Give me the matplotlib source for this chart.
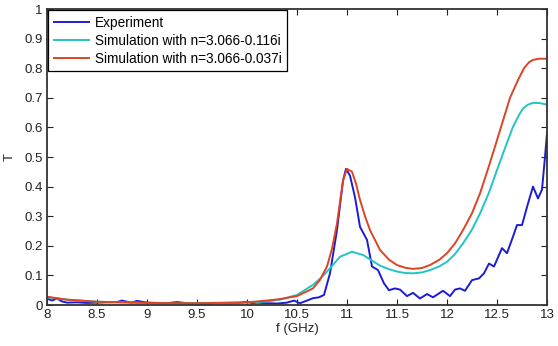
import matplotlib.pyplot as plt

plt.rcParams['font.family'] = ['Liberation Sans', 'DejaVu Sans']

# experiment (blue)
f_exp = [8.0, 8.05, 8.1, 8.15, 8.2, 8.3, 8.4, 8.5, 8.6, 8.7, 8.75, 8.8, 8.85, 8.9, 8.95, 9.0,
         9.1, 9.2, 9.3, 9.4, 9.5, 9.6, 9.7, 9.8, 9.9, 10.0, 10.05, 10.1, 10.2, 10.3, 10.4,
         10.47, 10.53, 10.6, 10.66, 10.72, 10.77, 10.83, 10.9, 10.96, 10.99, 11.03, 11.08,
         11.13, 11.2, 11.25, 11.31, 11.37, 11.42, 11.48, 11.53, 11.6, 11.66, 11.73, 11.8,
         11.86, 11.96, 12.03, 12.08, 12.13, 12.18, 12.25, 12.32, 12.37, 12.42, 12.47, 12.55,
         12.6, 12.66, 12.7, 12.75, 12.81, 12.86, 12.91, 12.95, 12.98, 13.0]
t_exp = [0.022, 0.015, 0.022, 0.012, 0.008, 0.009, 0.007, 0.008, 0.009, 0.010, 0.015, 0.011,
         0.008, 0.014, 0.011, 0.008, 0.007, 0.006, 0.010, 0.006, 0.005, 0.004, 0.006, 0.005,
         0.006, 0.011, 0.006, 0.008, 0.006, 0.005, 0.008, 0.015, 0.006, 0.015, 0.023, 0.026,
         0.034, 0.107, 0.253, 0.42, 0.46, 0.437, 0.364, 0.264, 0.22, 0.13, 0.118, 0.073, 0.05,
         0.056, 0.052, 0.03, 0.041, 0.022, 0.037, 0.026, 0.048, 0.03, 0.052, 0.056, 0.048,
         0.084, 0.09, 0.107, 0.14, 0.13, 0.192, 0.175, 0.231, 0.27, 0.27, 0.343, 0.40, 0.36,
         0.39, 0.50, 0.58]

# simulation n=3.066-0.116i (cyan)
f_s1 = [8.0, 8.2, 8.5, 9.0, 9.5, 10.0, 10.2, 10.33, 10.5, 10.66, 10.75, 10.83, 10.93, 11.05,
        11.16, 11.25, 11.33, 11.42, 11.5, 11.58, 11.66, 11.75, 11.83, 11.92, 12.0, 12.08,
        12.16, 12.25, 12.33, 12.42, 12.5, 12.58, 12.66, 12.72, 12.76, 12.81, 12.86, 12.93, 13.0]
t_s1 = [0.026, 0.018, 0.011, 0.007, 0.006, 0.008, 0.012, 0.018, 0.034, 0.068, 0.095, 0.124,
        0.163, 0.18, 0.169, 0.15, 0.133, 0.121, 0.113, 0.108, 0.107, 0.110, 0.118, 0.13,
        0.146, 0.172, 0.208, 0.255, 0.309, 0.38, 0.456, 0.53, 0.602, 0.642, 0.664, 0.677,
        0.683, 0.682, 0.677]

# simulation n=3.066-0.037i (red)
f_s2 = [8.0, 8.2, 8.5, 9.0, 9.5, 10.0, 10.2, 10.33, 10.5, 10.66, 10.73, 10.8, 10.85, 10.9,
        10.96, 11.0, 11.05, 11.09, 11.13, 11.18, 11.23, 11.33, 11.42, 11.5, 11.58, 11.66,
        11.75, 11.83, 11.92, 12.0, 12.08, 12.16, 12.25, 12.33, 12.42, 12.5, 12.58, 12.63,
        12.71, 12.77, 12.82, 12.86, 12.92, 13.0]
t_s2 = [0.028, 0.018, 0.011, 0.007, 0.006, 0.009, 0.015, 0.02, 0.03, 0.056, 0.085, 0.13,
        0.19, 0.276, 0.42, 0.46, 0.45, 0.41, 0.355, 0.30, 0.253, 0.186, 0.153, 0.135, 0.126,
        0.122, 0.125, 0.135, 0.152, 0.175, 0.208, 0.253, 0.31, 0.377, 0.47, 0.557, 0.645,
        0.70, 0.76, 0.80, 0.82, 0.828, 0.832, 0.832]

labels = ['Experiment', 'Simulation with n=3.066-0.116i', 'Simulation with n=3.066-0.037i']
xticks = [8, 8.5, 9, 9.5, 10, 10.5, 11, 11.5, 12, 12.5, 13]
yticks = [0, 0.1, 0.2, 0.3, 0.4, 0.5, 0.6, 0.7, 0.8, 0.9, 1]

fig = plt.figure(figsize=(5.58, 3.46), dpi=100)
ax = fig.add_axes([47 / 558, 1 - 305 / 346, 500 / 558, 296 / 346])

ax.plot(f_exp, t_exp, color='#1c1cd6', lw=1.4, label=labels[0])
ax.plot(f_s1, t_s1, color='#22c4c4', lw=1.4, label=labels[1])
ax.plot(f_s2, t_s2, color='#dc4424', lw=1.4, label=labels[2])

ax.set_xlim(8, 13)
ax.set_ylim(0, 1)
ax.set_xticks(xticks)
ax.set_xticklabels(['%g' % v for v in xticks])
ax.set_yticks(yticks)
ax.set_yticklabels(['%g' % v for v in yticks])
ax.tick_params(direction='in', top=True, right=True, labelsize=9.5, length=4, width=0.8,
               pad=3, colors='#222222')
for s in ax.spines.values():
    s.set_linewidth(1.3)
    s.set_color('#333333')
ax.set_xlabel('f (GHz)', fontsize=9.5, labelpad=1, color='#222222')
ax.set_ylabel('T', fontsize=9.5, labelpad=6, color='#222222')

leg = ax.legend(loc='upper left', fontsize=9.8, fancybox=False, framealpha=1,
                edgecolor='black', borderaxespad=0.1, handlelength=2.6,
                handletextpad=0.4, labelspacing=0.3, borderpad=0.4)
leg.get_frame().set_linewidth(0.9)

fig.savefig('out.png', dpi=100)
